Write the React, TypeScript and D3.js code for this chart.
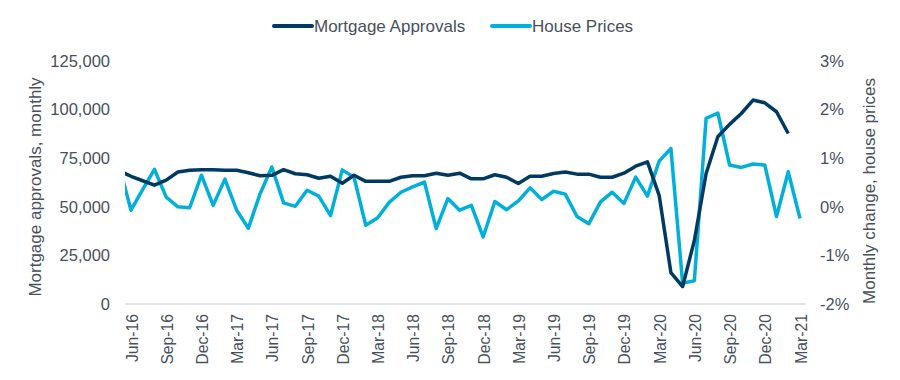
import React from "react";
import * as d3 from "d3";

// Months from May-16 (index 0, clipped at the axis edge) to Mar-21
const months: string[] = [
  "May-16","Jun-16","Jul-16","Aug-16","Sep-16","Oct-16","Nov-16","Dec-16",
  "Jan-17","Feb-17","Mar-17","Apr-17","May-17","Jun-17","Jul-17","Aug-17","Sep-17","Oct-17","Nov-17","Dec-17",
  "Jan-18","Feb-18","Mar-18","Apr-18","May-18","Jun-18","Jul-18","Aug-18","Sep-18","Oct-18","Nov-18","Dec-18",
  "Jan-19","Feb-19","Mar-19","Apr-19","May-19","Jun-19","Jul-19","Aug-19","Sep-19","Oct-19","Nov-19","Dec-19",
  "Jan-20","Feb-20","Mar-20","Apr-20","May-20","Jun-20","Jul-20","Aug-20","Sep-20","Oct-20","Nov-20","Dec-20",
  "Jan-21","Feb-21","Mar-21",
];

const mortgageApprovals: (number | null)[] = [
  68500, 65700, 63400, 61100, 63700, 67900, 68800, 69100,
  69100, 68800, 68800, 67500, 66000, 66200, 69100, 67000, 66500, 64700, 65700, 62100,
  66200, 63100, 63100, 63100, 65200, 66000, 66000, 67300, 66200, 67300, 64400, 64400,
  66500, 65200, 62000, 65700, 65700, 67100, 67900, 66800, 66800, 65200, 65200, 67300,
  70900, 73100, 55900, 16200, 9000, 32700, 67100, 86000, 92400, 98000, 104900, 103500,
  98900, 87700, null,
];

const housePrices: number[] = [
  0.84, -0.07, 0.36, 0.77, 0.2, 0.0, -0.02, 0.65,
  0.03, 0.57, -0.07, -0.44, 0.27, 0.82, 0.08, 0.01, 0.34, 0.22, -0.18, 0.76,
  0.61, -0.38, -0.23, 0.09, 0.3, 0.41, 0.51, -0.45, 0.17, -0.07, 0.03, -0.62,
  0.11, -0.06, 0.12, 0.39, 0.15, 0.32, 0.26, -0.2, -0.35, 0.1, 0.3, 0.07,
  0.61, 0.22, 0.94, 1.2, -1.57, -1.52, 1.82, 1.93, 0.86, 0.81, 0.88, 0.86,
  -0.2, 0.72, -0.24,
];

const leftTicks: number[] = [0, 25000, 50000, 75000, 100000, 125000];
const rightTicks: number[] = [-2, -1, 0, 1, 2, 3];
const xTickLabels: string[] = [
  "Jun-16","Sep-16","Dec-16","Mar-17","Jun-17","Sep-17","Dec-17","Mar-18","Jun-18","Sep-18",
  "Dec-18","Mar-19","Jun-19","Sep-19","Dec-19","Mar-20","Jun-20","Sep-20","Dec-20","Mar-21",
];

const seriesNames = ["Mortgage Approvals", "House Prices"];
const colors = ["#003a63", "#00b0da"];
const textColor = "#47505d";
const font = "'Liberation Sans', Arial, sans-serif";

export default function App() {
  const W = 900, H = 380;
  const plotLeft = 125, plotRight = 806, plotTop = 61, plotBottom = 304;

  // index 0 = May-16, 1 = Jun-16 ... 58 = Mar-21
  const x = d3.scaleLinear().domain([1, 58]).range([131, 800]);
  const yL = d3.scaleLinear().domain([0, 125000]).range([plotBottom, plotTop]);
  const yR = d3.scaleLinear().domain([-2, 3]).range([plotBottom, plotTop]);

  const mortLine = d3.line<number | null>()
    .defined((d) => d !== null)
    .x((_, i) => x(i))
    .y((d) => yL(d as number));
  const hpLine = d3.line<number>()
    .x((_, i) => x(i))
    .y((d) => yR(d));

  const fmt = d3.format(",");

  return (
    <svg width={W} height={H} style={{ position: "absolute", left: 0, top: 0 }} fontFamily={font}>
      <defs>
        <clipPath id="plotClip">
          <rect x={plotLeft} y={0} width={plotRight - plotLeft} height={H} />
        </clipPath>
      </defs>

      {/* Legend */}
      <g>
        <line x1={274} x2={312} y1={26} y2={26} stroke={colors[0]} strokeWidth={4} strokeLinecap="round" />
        <text x={314} y={26} dy="0.35em" fontSize={17} fill={textColor}>{seriesNames[0]}</text>
        <line x1={492} x2={530} y1={26} y2={26} stroke={colors[1]} strokeWidth={4} strokeLinecap="round" />
        <text x={532} y={26} dy="0.35em" fontSize={17} fill={textColor}>{seriesNames[1]}</text>
      </g>

      {/* Left axis labels */}
      {leftTicks.map((t) => (
        <text key={"l" + t} x={110} y={yL(t)} dy="0.35em" textAnchor="end" fontSize={16.5} fill={textColor}>
          {fmt(t)}
        </text>
      ))}
      {/* Right axis labels */}
      {rightTicks.map((t) => (
        <text key={"r" + t} x={820} y={yR(t)} dy="0.35em" textAnchor="start" fontSize={16.5} fill={textColor}>
          {t + "%"}
        </text>
      ))}

      {/* Axis titles */}
      <text transform={`translate(35, 187) rotate(-90)`} textAnchor="middle" dy="0.35em" fontSize={17} fill={textColor}>
        Mortgage approvals, monthly
      </text>
      <text transform={`translate(869, 191) rotate(-90)`} textAnchor="middle" dy="0.35em" fontSize={17} fill={textColor}>
        Monthly change, house prices
      </text>

      {/* X axis line */}
      <line x1={plotLeft} x2={plotRight} y1={plotBottom} y2={plotBottom} stroke="#d9dde3" strokeWidth={1.5} />

      {/* X tick labels */}
      {xTickLabels.map((lab) => {
        const idx = months.indexOf(lab);
        const px = x(idx);
        return (
          <text key={lab} transform={`translate(${px + 1}, 314) rotate(-90)`} textAnchor="end" dy="0.35em" fontSize={15.7} fill={textColor}>
            {lab}
          </text>
        );
      })}

      {/* Lines */}
      <g clipPath="url(#plotClip)">
        <path d={hpLine(housePrices) || ""} fill="none" stroke={colors[1]} strokeWidth={3.5} strokeLinejoin="round" />
        <path d={mortLine(mortgageApprovals) || ""} fill="none" stroke={colors[0]} strokeWidth={3.5} strokeLinejoin="round" />
      </g>
    </svg>
  );
}
